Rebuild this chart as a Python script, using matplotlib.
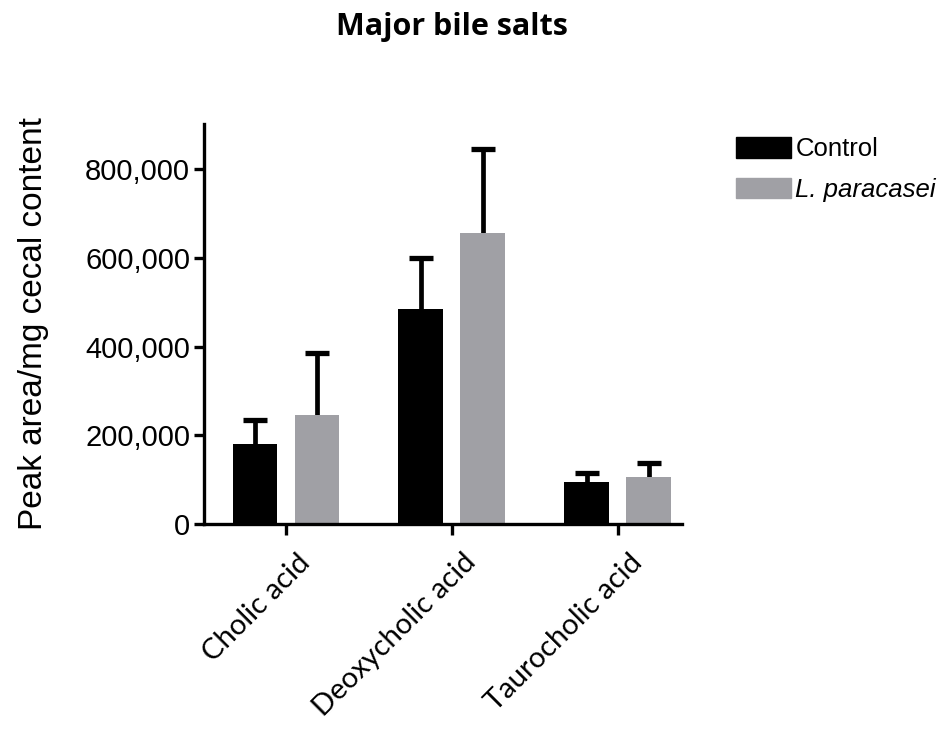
import numpy as np
import matplotlib
matplotlib.use("Agg")
import matplotlib.pyplot as plt
from matplotlib.patches import Patch
from matplotlib.ticker import FuncFormatter

# bile salt peak areas
categories = ["Cholic acid", "Deoxycholic acid", "Taurocholic acid"]
control_mean = [180000, 485000, 95000]
control_err = [54000, 115000, 20000]
lp_mean = [246000, 656000, 106000]
lp_err = [139000, 189000, 31000]
yticks = [0, 200000, 400000, 600000, 800000]

black = "#000000"
grey = "#A0A0A5"

fig = plt.figure(figsize=(9.5, 7.33), dpi=100)
ax = fig.add_axes([0.2147, 0.2851, 0.503, 0.5457])

x = np.arange(len(categories))
w = 0.27
off = 0.187
ekw = dict(elinewidth=3.4, capthick=3.8, capsize=8.5, ecolor="black")


def draw_group(pos, means, errs, col):
    ax.bar(pos, means, w, color=col, zorder=2)
    eb = ax.errorbar(pos, means, yerr=[np.zeros(len(means)), errs], fmt="none", zorder=1, **ekw)
    # only the upper caps, as in the original
    eb[1][0].set_visible(False)


draw_group(x - off, control_mean, control_err, black)
draw_group(x + off, lp_mean, lp_err, grey)

ax.set_xlim(-0.494, 2.386)
ax.set_ylim(0, 902000)
ax.set_yticks(yticks)
ax.yaxis.set_major_formatter(FuncFormatter(lambda v, p: "{:,.0f}".format(v)))
ax.set_xticks(x)
ax.set_xticklabels([])
# slanted category labels, nudged right of the tick like the original
for xi, cat in zip(x, categories):
    ax.annotate(cat, xy=(xi, 0), xycoords=("data", "axes fraction"),
                xytext=(11, -25), textcoords="offset pixels",
                rotation=45, ha="right", va="top", rotation_mode="anchor",
                fontsize=21, family="Lato", annotation_clip=False)

for s in ["top", "right"]:
    ax.spines[s].set_visible(False)
for s in ["left", "bottom"]:
    ax.spines[s].set_linewidth(2.4)
ax.tick_params(axis="y", length=7, width=2.4, labelsize=21, pad=3)
ax.tick_params(axis="x", length=8, width=2.4)
for lab in ax.get_yticklabels():
    lab.set_family("Liberation Sans")

ax.set_ylabel("Peak area/mg cecal content", fontsize=24, family="Liberation Sans")
ax.yaxis.set_label_coords(-0.325, 0.5)

fig.text(0.476, 0.952, "Major bile salts", ha="center", va="baseline",
         fontsize=22, fontweight="bold", family="Open Sans")

handles = [Patch(facecolor=black, edgecolor=black), Patch(facecolor=grey, edgecolor=grey)]
leg = fig.legend(handles, ["Control", "L. paracasei"], loc="upper left",
                 bbox_to_anchor=(0.775, 0.813), frameon=False,
                 prop={"family": "Liberation Sans", "size": 18.5},
                 handlelength=2.15, handleheight=0.85, handletextpad=0.15, labelspacing=0.65,
                 borderaxespad=0, borderpad=0)
leg.get_texts()[1].set_style("italic")

fig.savefig("out.png", dpi=100)
